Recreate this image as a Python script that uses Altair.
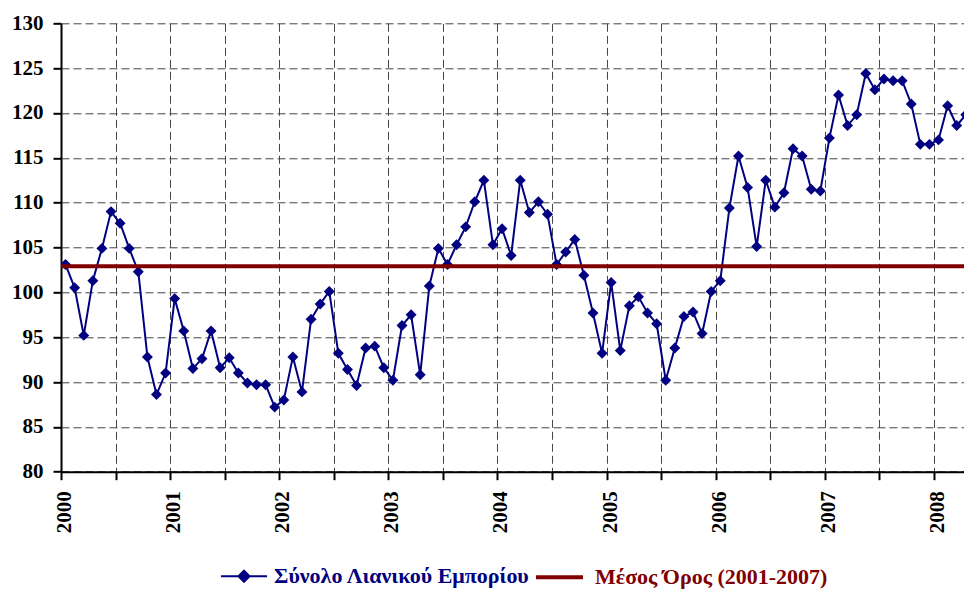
import altair as alt
import pandas as pd

series_name = "Σύνολο Λιανικού Εμπορίου"
mean_name = "Μέσος Όρος (2001-2007)"
start_year = 2000

values = [
    103.1, 100.5, 95.2, 101.3, 104.9, 109.0, 107.7, 104.9, 102.3, 92.8, 88.6, 91.0,   # 2000
    99.3, 95.7, 91.5, 92.6, 95.7, 91.6, 92.7, 91.0, 89.9, 89.7, 89.7, 87.2,           # 2001
    88.0, 92.8, 88.9, 97.0, 98.7, 100.1, 93.2, 91.4, 89.6, 93.8, 94.0, 91.6,          # 2002
    90.2, 96.3, 97.5, 90.8, 100.7, 104.9, 103.1, 105.3, 107.3, 110.1, 112.5, 105.3,   # 2003
    107.1, 104.1, 112.5, 108.9, 110.1, 108.7, 103.1, 104.5, 105.9, 101.9, 97.7, 93.2, # 2004
    101.1, 93.5, 98.5, 99.5, 97.7, 96.5, 90.2, 93.8, 97.3, 97.8, 95.4, 100.1,         # 2005
    101.3, 109.4, 115.2, 111.7, 105.1, 112.5, 109.5, 111.1, 116.0, 115.2, 111.5, 111.3, # 2006
    117.2, 122.0, 118.6, 119.8, 124.4, 122.6, 123.8, 123.6, 123.6, 121.0, 116.5, 116.5, # 2007
    117.0, 120.8, 118.6, 119.8, 118.2,                                                 # 2008
]
mean_value = 102.9
y_ticks = list(range(80, 131, 5))
x_ticks = list(range(0, 97, 6))  # month boundaries (every half year)

NAVY = "#000080"
DARKRED = "#800000"
FONT = "Liberation Serif"

df = pd.DataFrame({
    "t": [i + 0.5 for i in range(len(values))],
    "value": values,
    "series": [series_name] * len(values),
})
mean_df = pd.DataFrame({"value": [mean_value], "series": [mean_name]})

x_scale = alt.Scale(domain=[0, 99.3], nice=False, zero=False)
y_scale = alt.Scale(domain=[80, 130], nice=False, zero=False)

x_axis = alt.Axis(
    values=x_ticks,
    labelExpr=f"datum.value % 12 === 0 ? '' + ({start_year} + datum.value / 12) : ''",
    labelAngle=270, labelAlign="right", labelBaseline="middle",
    labelOffset=3.5, labelPadding=11, labelFlush=False, labelOverlap=False,
    labelFont=FONT, labelFontSize=21, labelFontWeight="bold", labelColor="black",
    tickSize=8, tickWidth=2, tickColor="black",
    domainColor="black", domainWidth=2,
    grid=True, gridDash=[8, 4], gridColor="#444444", gridWidth=1,
    title=None,
)
y_axis = alt.Axis(
    values=y_ticks,
    labelPadding=10, labelFont=FONT, labelFontSize=21, labelFontWeight="bold",
    labelColor="black",
    tickSize=8, tickWidth=2, tickColor="black",
    domainColor="black", domainWidth=2,
    grid=True, gridDash=[8, 4], gridColor="#444444", gridWidth=1,
    title=None,
)

series_legend = alt.Legend(
    orient="none", legendX=159, legendY=529, title=None, padding=0,
    symbolType="M-1,0L1,0M0,-0.24L0.24,0L0,0.24L-0.24,0Z",
    symbolSize=2116, symbolStrokeWidth=2,
    symbolFillColor=NAVY, symbolStrokeColor=NAVY,
    labelColor=NAVY, labelFont=FONT, labelFontSize=22, labelFontWeight="bold",
    labelOffset=6, labelLimit=0,
)
mean_legend = alt.Legend(
    orient="none", legendX=473, legendY=528.5, title=None, padding=0,
    symbolType="stroke", symbolSize=2209, symbolStrokeWidth=4,
    symbolStrokeColor=DARKRED,
    labelColor=DARKRED, labelFont=FONT, labelFontSize=22, labelFontWeight="bold",
    labelOffset=10, labelLimit=0,
)

line = alt.Chart(df).mark_line(
    strokeWidth=2, clip=True,
    point=alt.OverlayMarkDef(shape="diamond", filled=True, size=120, opacity=1),
).encode(
    x=alt.X("t:Q", scale=x_scale, axis=x_axis),
    y=alt.Y("value:Q", scale=y_scale, axis=y_axis),
    color=alt.Color("series:N", scale=alt.Scale(domain=[series_name], range=[NAVY]),
                    legend=series_legend),
)

mean_rule = alt.Chart(mean_df).mark_rule(strokeWidth=4).encode(
    y=alt.Y("value:Q", scale=y_scale),
    color=alt.Color("series:N", scale=alt.Scale(domain=[mean_name], range=[DARKRED]),
                    legend=mean_legend),
)

chart = alt.layer(line, mean_rule).resolve_scale(color="independent").properties(
    width=903, height=448.4,
    autosize=alt.AutoSizeParams(type="none"),
    padding={"left": 53, "top": 15.3, "right": 0, "bottom": 117},
).configure_view(stroke=None)

chart.save("out.html", embed_options={"renderer": "svg", "actions": False})
